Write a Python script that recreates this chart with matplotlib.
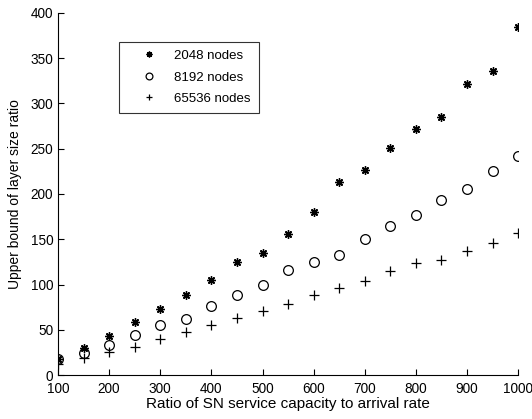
import matplotlib
matplotlib.use("Agg")
import matplotlib.pyplot as plt

# ratio of SN service capacity to arrival rate
ratio = [100, 150, 200, 250, 300, 350, 400, 450, 500, 550,
         600, 650, 700, 750, 800, 850, 900, 950, 1000]

# upper bound of layer size ratio
nodes_2048 = [18, 30, 43, 59, 73, 88, 105, 125, 135, 156,
              180, 213, 226, 251, 272, 285, 321, 336, 385]
nodes_8192 = [18, 24, 33, 44, 55, 62, 76, 88, 100, 116,
              125, 133, 150, 165, 177, 193, 206, 225, 242]
nodes_65536 = [12, 19, 25, 31, 40, 48, 55, 63, 71, 78,
               88, 96, 104, 115, 124, 127, 137, 146, 157]

plt.rcParams["font.family"] = ["Liberation Sans", "DejaVu Sans"]

fig = plt.figure(figsize=(5.32, 4.19), dpi=100)
ax = fig.add_axes([0.109, 0.105, 0.865, 0.864])

ax.plot(ratio, nodes_2048, ls="none", marker=(8, 2, 0), ms=6, mew=1.0,
        color="black", label="2048 nodes")
ax.plot(ratio, nodes_8192, ls="none", marker="o", ms=7, mew=0.9,
        mfc="none", color="black", label="8192 nodes")
ax.plot(ratio, nodes_65536, ls="none", marker="+", ms=7, mew=0.9,
        color="black", label="65536 nodes")

ax.set_xlim(100, 1000)
ax.set_ylim(0, 400)
ax.set_xticks(range(100, 1001, 100))
ax.set_yticks(range(0, 401, 50))
ax.tick_params(direction="in", labelsize=9.8, length=4, width=0.8)
ax.tick_params(axis="x", pad=5)
for side in ("top", "right"):
    ax.spines[side].set_visible(False)
for side in ("left", "bottom"):
    ax.spines[side].set_linewidth(0.8)

ax.set_xlabel("Ratio of SN service capacity to arrival rate", fontsize=11, labelpad=1)
ax.set_ylabel("Upper bound of layer size ratio", fontsize=10, labelpad=6)

leg = ax.legend(loc="upper left", bbox_to_anchor=(0.1326, 0.92), borderaxespad=0,
                fontsize=9.5, frameon=True, fancybox=False, edgecolor="black",
                handletextpad=0.3, borderpad=0.6, labelspacing=0.7,
                handlelength=3.3, markerscale=0.7)
leg.get_frame().set_linewidth(0.8)

fig.savefig("out.png", dpi=100)
